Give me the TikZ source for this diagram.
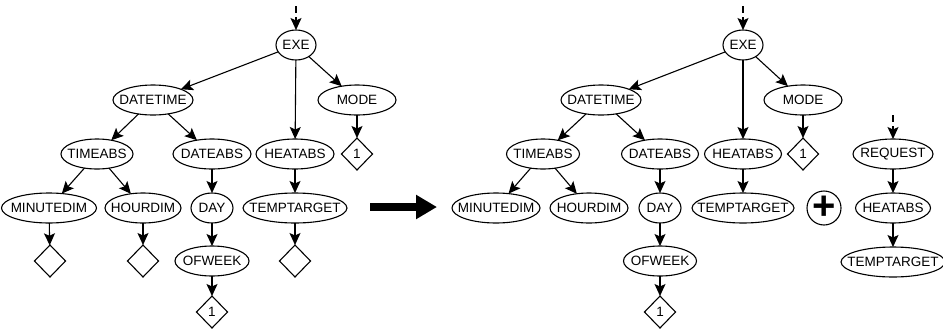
\documentclass[tikz,border=0pt]{standalone}
\usepackage{fontspec}
\setmainfont{Liberation Sans}
\usetikzlibrary{shapes.geometric}
\usetikzlibrary{arrows.meta}
\tikzset{
  oval/.style={draw, ellipse, line width=1.1pt, inner xsep=-30pt, inner ysep=0pt, outer sep=0pt, minimum height=30pt, minimum width=#1pt, font=\fontsize{13.5}{15}\selectfont},
  rhomb/.style={draw, diamond, aspect=1, line width=1.1pt, inner sep=0pt, outer sep=0pt, minimum width=31pt, minimum height=32pt, font=\fontsize{13.5}{15}\selectfont},
  plusdot/.style={draw, circle, line width=1.1pt, inner sep=0pt, minimum size=34pt, font=\fontsize{40}{40}\bfseries},
  arr/.style={-{Stealth[length=12pt,width=11pt,inset=2.5pt]}, line width=1.1pt},
  inarr/.style={arr, dash pattern=on 7pt off 4pt},
  bigarr/.style={-{Triangle[length=21pt,width=23pt]}, line width=8pt}
}

\begin{document}
\begin{tikzpicture}[x=1pt, y=-1pt]
        \useasboundingbox (0,0) rectangle (943,330);
        % left tree
        \coordinate (inExe) at (296,6);
        \node[oval=40] (exe) at (296,45) {EXE};
        \node[oval=80] (dt) at (153,100) {DATETIME};
        \node[oval=78] (mode) at (357,100) {MODE};
        \node[oval=72] (ta) at (97,154) {TIMEABS};
        \node[oval=78] (da) at (212,154) {DATEABS};
        \node[oval=78] (ha) at (295,154) {HEATABS};
        \node[rhomb] (dm) at (357,154) {1};
        \node[oval=95] (md) at (49,208) {MINUTEDIM};
        \node[oval=76] (hd) at (143,208) {HOURDIM};
        \node[oval=42] (day) at (212,208) {DAY};
        \node[oval=104] (tt) at (295,208) {TEMPTARGET};
        \node[rhomb] (dmd) at (50,261) {};
        \node[rhomb] (dhd) at (143,261) {};
        \node[oval=74] (ow) at (212,261) {OFWEEK};
        \node[rhomb] (dtt) at (295,261) {};
        \node[rhomb] (dow) at (212,312) {1};
        \draw[inarr] (inExe) -- (exe);
        \draw[arr] (exe) -- (dt);
        \draw[arr] (exe) -- (ha);
        \draw[arr] (exe) -- (mode);
        \draw[arr] (dt) -- (ta);
        \draw[arr] (dt) -- (da);
        \draw[arr] (mode) -- (dm);
        \draw[arr] (ta) -- (md);
        \draw[arr] (ta) -- (hd);
        \draw[arr] (da) -- (day);
        \draw[arr] (ha) -- (tt);
        \draw[arr] (md) -- (dmd);
        \draw[arr] (hd) -- (dhd);
        \draw[arr] (day) -- (ow);
        \draw[arr] (tt) -- (dtt);
        \draw[arr] (ow) -- (dow);
        % big arrow
        \coordinate (bigL) at (370,207);
        \coordinate (bigR) at (437,207);
        \draw[bigarr] (bigL) -- (bigR);
        % right tree
        \coordinate (inExeB) at (743,6);
        \node[oval=40] (exeB) at (743,45) {EXE};
        \node[oval=80] (dtB) at (601,100) {DATETIME};
        \node[oval=78] (modeB) at (803,100) {MODE};
        \node[oval=73] (taB) at (543,154) {TIMEABS};
        \node[oval=77] (daB) at (660,154) {DATEABS};
        \node[oval=77] (haB) at (743,154) {HEATABS};
        \node[rhomb] (dmB) at (803,154) {1};
        \node[oval=88] (mdB) at (496,208) {MINUTEDIM};
        \node[oval=78] (hdB) at (589,208) {HOURDIM};
        \node[oval=42] (dayB) at (660,208) {DAY};
        \node[oval=102] (ttB) at (743,208) {TEMPTARGET};
        \node[oval=73] (owB) at (660,261) {OFWEEK};
        \node[rhomb] (dowB) at (660,312) {1};
        \draw[inarr] (inExeB) -- (exeB);
        \draw[arr] (exeB) -- (dtB);
        \draw[arr] (exeB) -- (haB);
        \draw[arr] (exeB) -- (modeB);
        \draw[arr] (dtB) -- (taB);
        \draw[arr] (dtB) -- (daB);
        \draw[arr] (modeB) -- (dmB);
        \draw[arr] (taB) -- (mdB);
        \draw[arr] (taB) -- (hdB);
        \draw[arr] (daB) -- (dayB);
        \draw[arr] (haB) -- (ttB);
        \draw[arr] (dayB) -- (owB);
        \draw[arr] (owB) -- (dowB);
        % plus
        \node[plusdot] (plus) at (824,208) {+};
        % request tree
        \coordinate (inReq) at (893,115);
        \node[oval=80] (req) at (893,154) {REQUEST};
        \node[oval=75] (haC) at (893,208) {HEATABS};
        \node[oval=104] (ttC) at (893,262) {TEMPTARGET};
        \draw[inarr] (inReq) -- (req);
        \draw[arr] (req) -- (haC);
        \draw[arr] (haC) -- (ttC);
    \end{tikzpicture}
\end{document}
